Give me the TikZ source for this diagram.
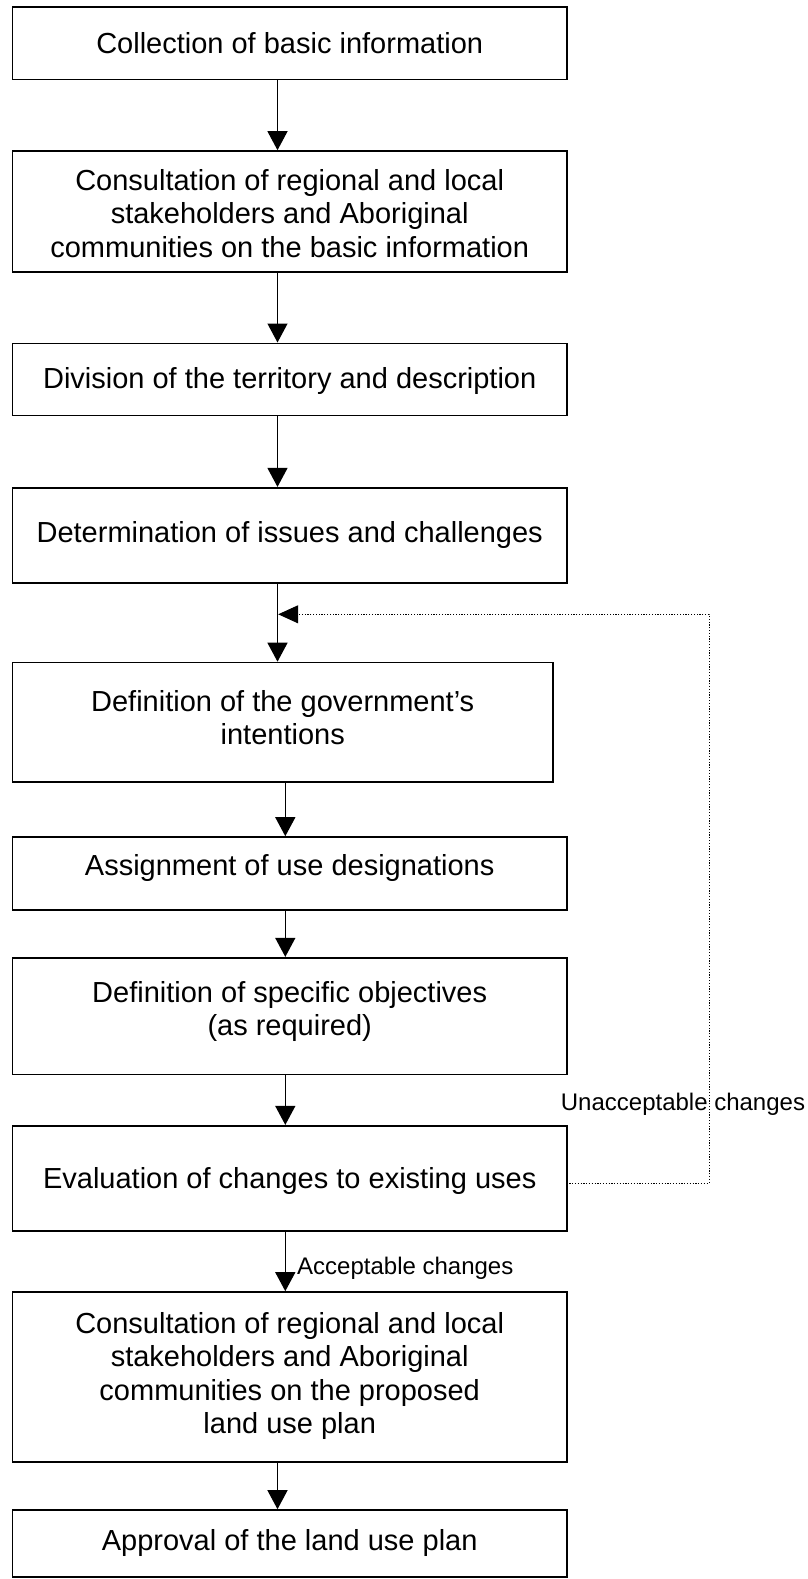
\documentclass[tikz,border=0pt]{standalone}
\usepackage{fontspec}
\setmainfont{Liberation Sans}
\usetikzlibrary{arrows.meta}
\begin{document}
\begin{tikzpicture}[x=1pt,y=-1pt,
  boxnode/.style={draw=black, line width=1.6pt, rectangle, inner sep=0pt, minimum width=554.6pt},
  boxtext/.style={font=\fontsize{29}{33.3}\selectfont, align=center, anchor=base, inner sep=0pt},
  smalltext/.style={font=\fontsize{24}{28}\selectfont, anchor=base west, inner sep=0pt},
  arr/.style={line width=1.3pt, -{Triangle[length=19pt,width=20pt]}},
  fb/.style={line width=1pt, dash pattern=on 1.2pt off 1.6pt, -{Triangle[length=20pt,width=18pt]}}]
\useasboundingbox (0,0) rectangle (808,1579);
% boxes
\node[boxnode, minimum height=72pt]    (b1)  at (289.7,43.3) {};
\node[boxnode, minimum height=120.7pt] (b2)  at (289.7,211.35) {};
\node[boxnode, minimum height=72pt]    (b3)  at (289.7,379.3) {};
\node[boxnode, minimum height=95.3pt]  (b4)  at (289.7,535.35) {};
\node[boxnode, minimum height=119.5pt, minimum width=540.6pt] (b5) at (282.7,722.25) {};
\node[boxnode, minimum height=73pt]    (b6)  at (289.7,873.5) {};
\node[boxnode, minimum height=116.6pt] (b7)  at (289.7,1016) {};
\node[boxnode, minimum height=105.3pt] (b8)  at (289.7,1178.35) {};
\node[boxnode, minimum height=169.7pt] (b9)  at (289.7,1376.85) {};
\node[boxnode, minimum height=67pt]    (b10) at (289.7,1543.5) {};
% texts (base anchor = baseline of the last line)
\node[boxtext] (t1)  at (289.7,53.7)  {Collection of basic information};
\node[boxtext] (t2)  at (289.7,257.1) {Consultation of regional and local\\stakeholders and Aboriginal\\communities on the basic information};
\node[boxtext] (t3)  at (289.7,388.7) {Division of the territory and description};
\node[boxtext] (t4)  at (289.7,542.4) {Determination of issues and challenges};
\node[boxtext] (t5)  at (282.7,744.5) {Definition of the government’s\\intentions};
\node[boxtext] (t6)  at (289.7,875.4) {Assignment of use designations};
\node[boxtext] (t7)  at (289.7,1035.3){Definition of specific objectives\\(as required)};
\node[boxtext] (t8)  at (289.7,1188.4){Evaluation of changes to existing uses};
\node[boxtext] (t9)  at (289.7,1433.4){Consultation of regional and local\\stakeholders and Aboriginal\\communities on the proposed\\land use plan};
\node[boxtext] (t10) at (289.7,1550.4){Approval of the land use plan};
% columns
\coordinate (colA) at (277.5,0);
\coordinate (colB) at (285.3,0);
% connectors
\draw[arr] (b1.south -| colA) -- (b2.north -| colA);
\draw[arr] (b2.south -| colA) -- (b3.north -| colA);
\draw[arr] (b3.south -| colA) -- (b4.north -| colA);
\draw[arr] (b4.south -| colA) -- (b5.north -| colA);
\draw[arr] (b5.south -| colB) -- (b6.north -| colB);
\draw[arr] (b6.south -| colB) -- (b7.north -| colB);
\draw[arr] (b7.south -| colB) -- (b8.north -| colB);
\draw[arr] (b8.south -| colB) -- (b9.north -| colB);
\draw[arr] (b9.south -| colA) -- (b10.north -| colA);
% feedback loop
\coordinate (fbA) at (709,1183);
\coordinate (fbB) at (709,614.3);
\coordinate (fbT) at (278.2,614.3);
\draw[fb] ([xshift=1.5pt]b8.east |- fbA) -- (fbA) -- (fbB) -- (fbT);
% labels
\node[smalltext] (lu) at (560.7,1110.7) {Unacceptable changes};
\node[smalltext] (la) at (297,1274.3) {Acceptable changes};
\end{tikzpicture}
\end{document}
